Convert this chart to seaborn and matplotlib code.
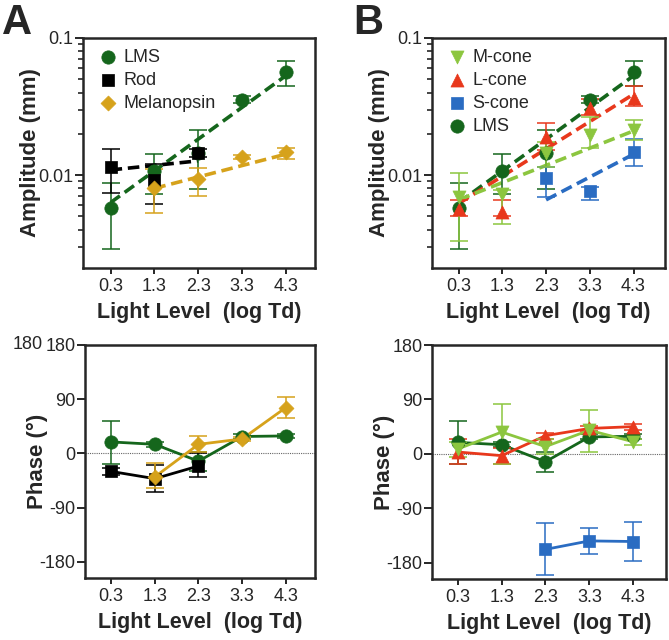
import numpy as np
import pandas as pd
import matplotlib
matplotlib.use("Agg")
import matplotlib.pyplot as plt
import seaborn as sns
from matplotlib.ticker import FixedLocator, NullFormatter, FixedFormatter

nan = np.nan

# ---------------- data ----------------
light = [0.3, 1.3, 2.3, 3.3, 4.3]
xtick_labels = ["0.3", "1.3", "2.3", "3.3", "4.3"]

# Amplitude (mm): value, lower, upper
lms_amp    = [0.0058, 0.0108, 0.0146, 0.0354, 0.0564]
lms_amp_lo = [0.0029, 0.0073, 0.0079, 0.0335, 0.0448]
lms_amp_hi = [0.0087, 0.0143, 0.0212, 0.0375, 0.0680]

rod_amp    = [0.0114, 0.0092, 0.0145, nan, nan]
rod_amp_lo = [0.0074, 0.0062, 0.0136, nan, nan]
rod_amp_hi = [0.0154, 0.0120, 0.0155, nan, nan]

mel_amp    = [nan, 0.0080, 0.0094, 0.0135, 0.0147]
mel_amp_lo = [nan, 0.0053, 0.0070, 0.0130, 0.0132]
mel_amp_hi = [nan, 0.0110, 0.0112, 0.0140, 0.0157]

mcone_amp    = [0.0069, 0.0073, 0.0145, 0.0196, 0.0213]
mcone_amp_lo = [0.0033, 0.0044, 0.0115, 0.0157, 0.0180]
mcone_amp_hi = [0.0104, 0.0078, 0.0175, 0.0264, 0.0253]

lcone_amp    = [0.0057, 0.0054, 0.0191, 0.0308, 0.0364]
lcone_amp_lo = [0.0050, 0.0050, 0.0152, 0.0275, 0.0320]
lcone_amp_hi = [0.0066, 0.0066, 0.0239, 0.0357, 0.0448]

scone_amp    = [nan, nan, 0.0095, 0.0076, 0.0148]
scone_amp_lo = [nan, nan, 0.0069, 0.0066, 0.0116]
scone_amp_hi = [nan, nan, 0.0115, 0.0082, 0.0182]

# Regression lines (end points)
lms_fit_x, lms_fit_y = [0.3, 4.3], [0.0063, 0.0530]
rod_fit_x, rod_fit_y = [0.3, 2.3], [0.0109, 0.0127]
mel_fit_x, mel_fit_y = [1.3, 4.3], [0.0080, 0.0142]
mcone_fit_x, mcone_fit_y = [0.3, 4.3], [0.0066, 0.0210]
lcone_fit_x, lcone_fit_y = [0.3, 4.3], [0.0062, 0.0389]
scone_fit_x, scone_fit_y = [2.3, 4.3], [0.0066, 0.0142]

# Phase (deg): value, lower, upper
lms_ph    = [19, 15, -13, 28, 29]
lms_ph_lo = [-17, 11, -30, 24, 25]
lms_ph_hi = [54, 19, 3, 33, 33]

rod_ph    = [-30, -42, -21, nan, nan]
rod_ph_lo = [-36, -64, -40, nan, nan]
rod_ph_hi = [-25, -19, 0, nan, nan]

mel_ph    = [nan, -39, 15, 24, 76]
mel_ph_lo = [nan, -58, 3, 21, 59]
mel_ph_hi = [nan, -16, 29, 27, 93]

mcone_ph    = [8, 36, 12, 39, 20]
mcone_ph_lo = [-5, -17, 0, 3, 15]
mcone_ph_hi = [20, 83, 25, 73, 25]

lcone_ph    = [3, -3, 30, 42, 45]
lcone_ph_lo = [-16, -16, 25, 38, 40]
lcone_ph_hi = [25, 10, 35, 46, 50]

scone_ph    = [nan, nan, -158, -144, -145]
scone_ph_lo = [nan, nan, -201, -166, -178]
scone_ph_hi = [nan, nan, -114, -123, -112]

# ---------------- style ----------------
sns.set_style("ticks")
plt.rcParams['font.family'] = ['Liberation Sans', 'DejaVu Sans']
plt.rcParams['axes.linewidth'] = 1.6

C_LMS = "#15661c"
C_ROD = "#000000"
C_MEL = "#d6a21b"
C_M = "#8cc63f"
C_L = "#e8381c"
C_S = "#2a6cc2"

fig = plt.figure(figsize=(6.69, 6.40), dpi=100)

def make_ax(left_px, right_px, top_px, bottom_px):
    W, H = 669.0, 640.0
    return fig.add_axes([left_px / W, 1 - bottom_px / H,
                         (right_px - left_px) / W, (bottom_px - top_px) / H])

axA1 = make_ax(83, 315, 38, 268)
axA2 = make_ax(85, 315, 345, 578)
axB1 = make_ax(432, 665, 38, 268)
axB2 = make_ax(432, 666, 345, 579)

xlims = {axA1: (-0.33, 4.97), axA2: (-0.30, 4.97),
         axB1: (-0.31, 5.02), axB2: (-0.29, 5.05)}


def series(ax, y, lo, hi, color, marker, label, ms, line=False, lw=2.0, z=3):
    df = pd.DataFrame({"x": light, "y": y, "lo": lo, "hi": hi}).dropna()
    yerr = np.vstack([df["y"] - df["lo"], df["hi"] - df["y"]])
    ax.errorbar(df["x"], df["y"], yerr=yerr, fmt="none", ecolor=color,
                elinewidth=1.1, capsize=6.5, capthick=1.1, zorder=z)
    if line:
        sns.lineplot(data=df, x="x", y="y", ax=ax, color=color, lw=lw,
                     zorder=z, legend=False, estimator=None, sort=False)
    sns.scatterplot(data=df, x="x", y="y", ax=ax, color=color, marker=marker,
                    s=ms, edgecolor=color, linewidth=0.5, zorder=z + 0.5,
                    label=label, legend=False)


def fit(ax, fx, fy, color, z=2.5):
    df = pd.DataFrame({"x": fx, "y": fy})
    sns.lineplot(data=df, x="x", y="y", ax=ax, color=color, lw=2.6,
                 linestyle=(0, (3.2, 1.6)), zorder=z, legend=False,
                 estimator=None, sort=False)

S_O, S_SQ, S_D, S_T = 92, 78, 58, 88

# Panel A amplitude
series(axA1, lms_amp, lms_amp_lo, lms_amp_hi, C_LMS, "o", "LMS", S_O)
series(axA1, rod_amp, rod_amp_lo, rod_amp_hi, C_ROD, "s", "Rod", S_SQ)
series(axA1, mel_amp, mel_amp_lo, mel_amp_hi, C_MEL, "D", "Melanopsin", S_D)
fit(axA1, lms_fit_x, lms_fit_y, C_LMS)
fit(axA1, rod_fit_x, rod_fit_y, C_ROD)
fit(axA1, mel_fit_x, mel_fit_y, C_MEL)

# Panel B amplitude
series(axB1, lms_amp, lms_amp_lo, lms_amp_hi, C_LMS, "o", "LMS", S_O, z=3)
series(axB1, scone_amp, scone_amp_lo, scone_amp_hi, C_S, "s", "S-cone", S_SQ, z=3.1)
series(axB1, lcone_amp, lcone_amp_lo, lcone_amp_hi, C_L, "^", "L-cone", S_T, z=3.2)
series(axB1, mcone_amp, mcone_amp_lo, mcone_amp_hi, C_M, "v", "M-cone", S_T, z=3.3)
fit(axB1, lms_fit_x, lms_fit_y, C_LMS)
fit(axB1, lcone_fit_x, lcone_fit_y, C_L)
fit(axB1, mcone_fit_x, mcone_fit_y, C_M)
fit(axB1, scone_fit_x, scone_fit_y, C_S)

# Panel A phase
series(axA2, lms_ph, lms_ph_lo, lms_ph_hi, C_LMS, "o", "LMS", S_O, line=True, z=3)
series(axA2, rod_ph, rod_ph_lo, rod_ph_hi, C_ROD, "s", "Rod", S_SQ, line=True, z=3.1)
series(axA2, mel_ph, mel_ph_lo, mel_ph_hi, C_MEL, "D", "Melanopsin", S_D, line=True, z=3.2)

# Panel B phase
series(axB2, lms_ph, lms_ph_lo, lms_ph_hi, C_LMS, "o", "LMS", S_O, line=True, z=3)
series(axB2, lcone_ph, lcone_ph_lo, lcone_ph_hi, C_L, "^", "L-cone", S_T, line=True, z=3.1)
series(axB2, mcone_ph, mcone_ph_lo, mcone_ph_hi, C_M, "v", "M-cone", S_T, line=True, z=3.2)
series(axB2, scone_ph, scone_ph_lo, scone_ph_hi, C_S, "s", "S-cone", S_SQ, line=True, z=3.3)

# ---------------- axes formatting ----------------
for ax in (axA1, axA2, axB1, axB2):
    ax.set_xlim(*xlims[ax])
    ax.set_xticks(light)
    ax.set_xticklabels(xtick_labels)
    ax.tick_params(axis="x", length=4, width=1.4, labelsize=13, pad=3)
    ax.tick_params(axis="y", length=6, width=1.4, labelsize=13, pad=1)
    for s in ax.spines.values():
        s.set_linewidth(1.8)
        s.set_visible(True)
    ax.set_xlabel("Light Level  (log Td)", fontsize=15.5, fontweight="bold", labelpad=5)

for ax in (axA1, axB1):
    ax.set_yscale("log")
    ax.set_ylim(0.0021, 0.1)
    ax.yaxis.set_major_locator(FixedLocator([0.01, 0.1]))
    ax.yaxis.set_major_formatter(FixedFormatter(["0.01", "0.1"]))
    minors = [k * 0.001 for k in range(2, 10)] + [k * 0.01 for k in range(2, 10)]
    ax.yaxis.set_minor_locator(FixedLocator(minors))
    ax.yaxis.set_minor_formatter(NullFormatter())
    ax.tick_params(axis="y", which="minor", length=3.5, width=1.2)
    ax.set_ylabel("Amplitude (mm)", fontsize=16, fontweight="bold", labelpad=-2)

for ax in (axA2, axB2):
    ax.set_ylim(-207, 180)
    ax.set_yticks([-180, -90, 0, 90, 180])
    ax.set_yticklabels(["-180", "-90", "0", "90", "180"])
    ax.axhline(0, color="#666666", lw=0.8, ls=(0, (1, 1)), zorder=1)
    ax.set_ylabel("Phase (°)", fontsize=16, fontweight="bold", labelpad=-6)

# stray duplicate tick label present in the original
axA2.text(-0.185, 1.0, "180", transform=axA2.transAxes, fontsize=13,
          ha="right", va="center")

# legends
def legend(ax, order):
    h, l = ax.get_legend_handles_labels()
    d = dict(zip(l, h))
    leg = ax.legend([d[k] for k in order], order, loc="upper left", frameon=False,
                    fontsize=13, handletextpad=0.05, labelspacing=0.33,
                    handlelength=1.6, borderaxespad=0.0,
                    bbox_to_anchor=(0.015, 0.985))
    return leg

legend(axA1, ["LMS", "Rod", "Melanopsin"])
legend(axB1, ["M-cone", "L-cone", "S-cone", "LMS"])

fig.text(0.003, 0.995, "A", fontsize=30, fontweight="bold", va="top", ha="left")
fig.text(0.528, 0.995, "B", fontsize=30, fontweight="bold", va="top", ha="left")

fig.savefig("out.png", dpi=100)
